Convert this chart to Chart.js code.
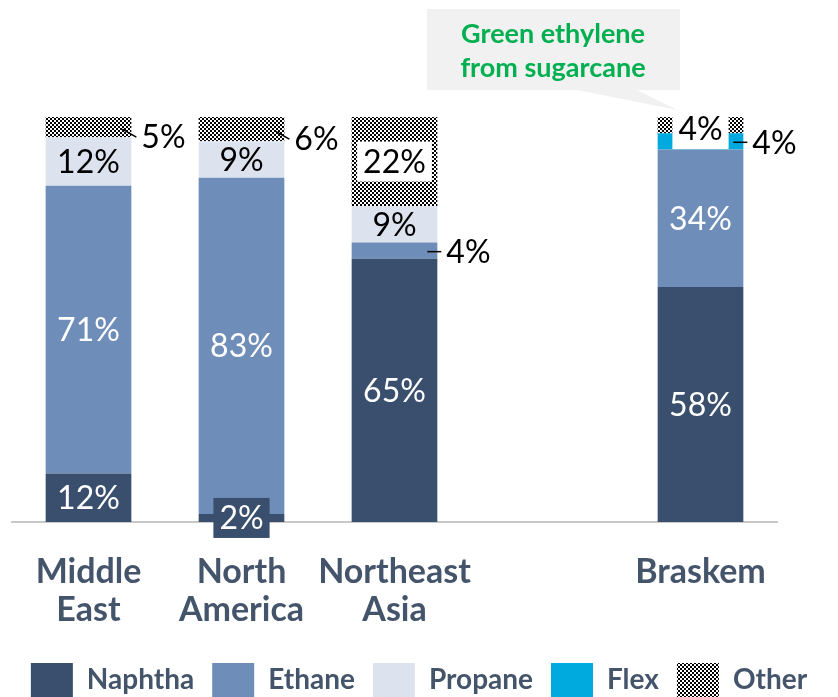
<!DOCTYPE html>
<html lang="en">
<head>
  <meta charset="UTF-8" />
  <title>Feedstock mix</title>
  <script src="https://cdn.jsdelivr.net/npm/chart.js"></script>
  <style>
    body { margin: 0; background: #fff; }
    .wrap { width: 838px; height: 697px; position: relative; }
  </style>
</head>
<body>
  <div class="wrap"><canvas id="chart"></canvas></div>

  <script>
    // data
    const categories = [['Middle', 'East'], ['North', 'America'], ['Northeast', 'Asia'], '', 'Braskem'];
    const seriesNames = ['Naphtha', 'Ethane', 'Propane', 'Flex', 'Other'];
    const naphtha = [12, 2, 65, null, 58];
    const ethane = [71, 83, 4, null, 34];
    const propane = [12, 9, 9, null, 0];
    const flex = [0, 0, 0, null, 4];
    const other = [5, 6, 22, null, 4];
    const calloutLines = ['Green ethylene', 'from sugarcane'];

    const FONT = 'Lato';
    const slate = '#44546A';

    const canvas = document.getElementById('chart');
    const ctx = canvas.getContext('2d');

    // checkerboard fill used for "Other"
    const tile = document.createElement('canvas');
    tile.width = 4; tile.height = 4;
    const tg = tile.getContext('2d');
    tg.fillStyle = '#fff'; tg.fillRect(0, 0, 4, 4);
    tg.fillStyle = '#000'; tg.fillRect(0, 0, 2, 2); tg.fillRect(2, 2, 2, 2);
    const hatch = ctx.createPattern(tile, 'repeat');

    const colors = ['#3A4F6D', '#6E8DB9', '#DDE3EE', '#00A9DE', hatch];
    const textColors = ['#fff', '#fff', '#000', '#000', '#000'];
    const values = [naphtha, ethane, propane, flex, other];

    // how some labels sit: key is dataset-category
    const placement = {
      '4-0': 'diag', '4-1': 'diag', '1-2': 'side', '3-4': 'side',
      '0-1': 'box', '4-2': 'box', '4-4': 'box'
    };

    const labelPlugin = {
      id: 'labels',
      afterDatasetsDraw(chart) {
        const c = chart.ctx;
        c.save();
        c.font = '32px ' + FONT;
        c.textBaseline = 'middle';
        chart.data.datasets.forEach((ds, d) => {
          const meta = chart.getDatasetMeta(d);
          meta.data.forEach((bar, i) => {
            const v = ds.data[i];
            if (!v) return;
            const txt = v + '%';
            const cy = (bar.y + bar.base) / 2;
            const right = bar.x + bar.width / 2;
            const mode = placement[d + '-' + i];
            c.strokeStyle = '#000';
            c.lineWidth = 1.5;
            if (mode === 'diag') {
              c.beginPath();
              c.moveTo(right - 9, cy + 2);
              c.lineTo(right + 5, cy + 10);
              c.stroke();
              c.fillStyle = '#000';
              c.textAlign = 'left';
              c.fillText(txt, right + 10, cy + 11);
            } else if (mode === 'side') {
              c.beginPath();
              c.moveTo(right - 10, cy + 1);
              c.lineTo(right + 4, cy + 1);
              c.stroke();
              c.fillStyle = '#000';
              c.textAlign = 'left';
              c.fillText(txt, right + 9, cy + 2);
            } else if (mode === 'box') {
              const w = c.measureText(txt).width + 12;
              const by = d === 4 && v < 10 ? cy + 4 : cy;
              c.fillStyle = d === 0 ? colors[0] : '#fff';
              c.fillRect(bar.x - w / 2, by - 20, w, 40);
              c.fillStyle = textColors[d];
              c.textAlign = 'center';
              c.fillText(txt, bar.x, by + 1);
            } else {
              c.fillStyle = textColors[d];
              c.textAlign = 'center';
              c.fillText(txt, bar.x, cy + 1);
            }
          });
        });
        c.restore();
      }
    };

    const calloutPlugin = {
      id: 'callout',
      afterDraw(chart) {
        const c = chart.ctx;
        const bar = chart.getDatasetMeta(4).data[4];
        const tipX = bar.x - bar.width / 2 + 20;
        const tipY = bar.y - 7;
        c.save();
        c.fillStyle = '#F1F1F1';
        c.beginPath();
        c.moveTo(427, 9);
        c.lineTo(680, 9);
        c.lineTo(680, 90);
        c.lineTo(637, 90);
        c.lineTo(tipX, tipY);
        c.lineTo(577, 90);
        c.lineTo(427, 90);
        c.closePath();
        c.fill();
        c.fillStyle = '#00B050';
        c.font = 'bold 27px ' + FONT;
        c.textAlign = 'center';
        c.textBaseline = 'middle';
        c.fillText(calloutLines[0], 553, 34);
        c.fillText(calloutLines[1], 553, 68);
        c.restore();
      }
    };

    const blankAxis = (pos, w) => ({
      position: pos,
      display: true,
      min: 0,
      max: 100,
      grid: { display: false, drawTicks: false },
      border: { display: false },
      ticks: { display: false },
      afterFit: s => { s.width = w; }
    });

    new Chart(canvas, {
      type: 'bar',
      data: {
        labels: categories,
        datasets: seriesNames.map((name, k) => ({
          label: name,
          data: values[k],
          backgroundColor: colors[k],
          borderWidth: 0,
          categoryPercentage: 1,
          barPercentage: 0.56
        }))
      },
      options: {
        responsive: true,
        maintainAspectRatio: false,
        animation: false,
        layout: { padding: { top: 117, left: 0, right: 0, bottom: -10 } },
        plugins: {
          tooltip: { enabled: false },
          legend: {
            position: 'bottom',
            labels: {
              boxWidth: 42,
              boxHeight: 34,
              padding: 18,
              color: slate,
              font: { family: FONT, size: 28, weight: 'bold' }
            }
          }
        },
        scales: {
          x: {
            stacked: true,
            grid: { display: false, drawTicks: false },
            border: { display: true, color: '#C8C8C8', width: 2 },
            ticks: {
              color: slate,
              padding: 31,
              maxRotation: 0,
              autoSkip: false,
              font: { family: FONT, size: 34, weight: 'bold', lineHeight: 1.12 }
            },
            afterFit: s => { s.height = 123; }
          },
          y: Object.assign(blankAxis('left', 12), { stacked: true }),
          yr: blankAxis('right', 61)
        }
      },
      plugins: [labelPlugin, calloutPlugin]
    });
  </script>
</body>
</html>
